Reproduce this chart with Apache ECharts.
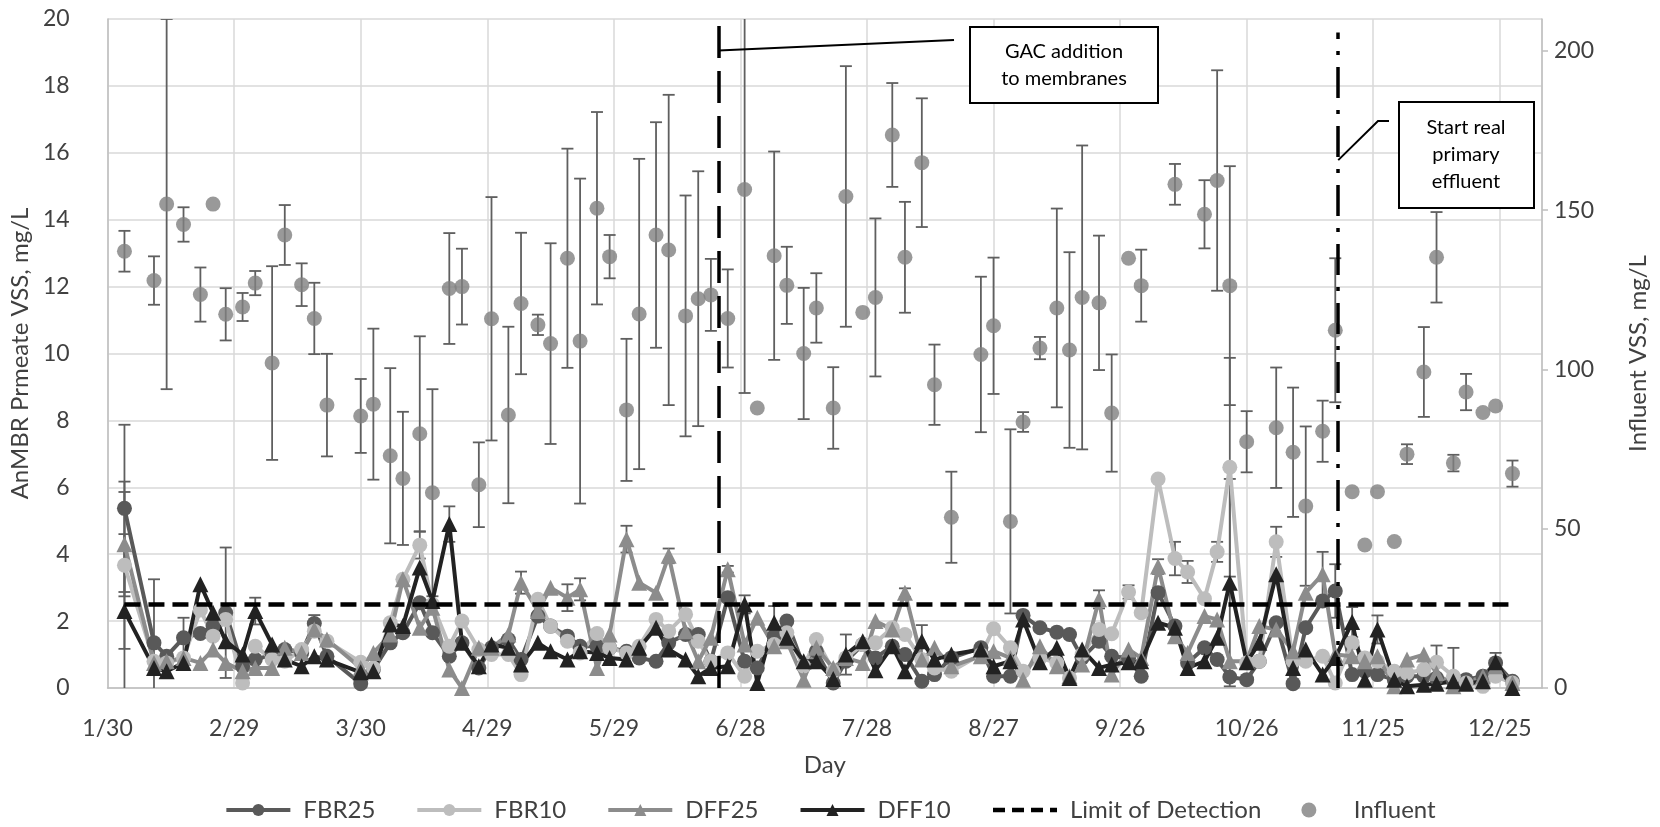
<!DOCTYPE html>
<html>
<head>
<meta charset="utf-8">
<title>AnMBR permeate VSS</title>
<script src="https://cdn.jsdelivr.net/npm/echarts@6/dist/echarts.min.js"></script>
<style>
    html, body { margin: 0; padding: 0; background: #fff; }
    #chart { width: 1660px; height: 827px; }
</style>
</head>
<body>
<div id="chart"></div>
<script>
    // day 0 = 1/30
    var reactorDays = [4, 11, 14, 18, 22, 25, 28, 32, 35, 39, 42, 46, 49, 52,
        60, 63, 67, 70, 74, 77, 81, 84, 88, 91, 95, 98, 102, 105, 109, 112,
        116, 119, 123, 126, 130, 133, 137, 140, 143, 147, 151, 154, 158, 161, 165, 168,
        172, 175, 179, 182, 186, 189, 193, 196, 200, 207, 210, 214, 217, 221, 225,
        228, 231, 235, 238, 242, 245, 249, 253, 256, 260, 263, 266, 270, 273, 277, 281,
        284, 288, 291, 295, 298, 301, 305, 308, 312, 315, 319, 322, 326, 329, 333];

    var fbr25 = [5.37, 1.35, 0.95, 1.5, 1.63, 1.85, 2.25, 0.65, 0.85, 1.0, 1.15, 1.05, 1.93, 0.95,
        0.13, 0.55, 1.35, 1.65, 2.55, 1.65, 0.95, 1.35, 0.6, 1.2, 1.45, 0.85, 2.15, 1.85, 1.55, 1.25,
        1.25, 1.2, 1.1, 0.9, 0.8, 1.35, 1.6, 1.6, 0.8, 2.7, 0.8, 0.6, 1.55, 2.0, 0.65, 1.1,
        0.15, 0.8, 1.3, 0.9, 1.25, 1.0, 0.2, 0.4, 0.9, 1.2, 0.35, 0.35, 2.17, 1.8, 1.67,
        1.6, 0.9, 1.4, 0.95, 0.9, 0.35, 2.85, 1.85, 0.75, 1.2, 0.85, 0.33, 0.25, 0.8, 1.95, 0.13,
        1.8, 2.6, 2.9, 0.4, 0.5, 0.4, 0.25, 0.35, 0.35, 0.3, 0.2, 0.25, 0.35, 0.75, 0.2];

    var fbr10 = [3.67, 0.8, 0.75, 0.9, 2.33, 1.55, 2.05, 0.15, 1.25, 0.85, 0.8, 1.15, 1.7, 1.4,
        0.77, 0.6, 1.95, 3.25, 4.27, 2.5, 1.25, 2.0, 1.15, 1.0, 1.0, 0.4, 2.65, 1.85, 1.4, 1.05,
        1.63, 1.2, 1.05, 1.25, 2.05, 1.7, 2.2, 1.4, 0.8, 1.05, 0.35, 1.1, 1.3, 1.65, 0.65, 1.45,
        0.5, 0.9, 1.3, 1.35, 1.8, 1.6, 0.85, 0.6, 0.5, 1.0, 1.77, 1.2, 0.5, 0.9, 0.75,
        0.3, 1.0, 1.75, 1.62, 2.87, 2.25, 6.25, 3.87, 3.47, 2.67, 4.07, 6.6, 0.75, 0.8, 4.37, 0.8,
        0.8, 0.95, 0.15, 1.35, 0.9, 0.8, 0.5, 0.45, 0.55, 0.77, 0.35, 0.15, 0.05, 0.35, 0.15];

    var dff25 = [4.3, 0.75, 0.8, 0.9, 0.75, 1.15, 0.75, 0.5, 0.6, 0.6, 1.2, 1.05, 1.75, 1.45,
        0.6, 1.05, 1.6, 3.25, 1.8, 2.4, 0.55, 0.0, 1.2, 1.2, 1.6, 3.15, 2.3, 3.0, 2.7, 2.95,
        0.6, 1.6, 4.45, 3.15, 2.85, 3.95, 1.7, 0.8, 1.5, 3.55, 1.3, 2.1, 1.25, 1.4, 0.25, 1.2,
        0.6, 0.9, 0.75, 2.0, 1.75, 2.85, 0.85, 1.2, 0.65, 0.95, 1.1, 0.9, 0.25, 1.25, 0.65,
        0.35, 0.7, 2.65, 0.4, 1.15, 0.9, 3.63, 1.55, 1.05, 2.15, 2.05, 0.8, 0.8, 1.85, 1.75, 1.1,
        2.85, 3.4, 1.0, 0.95, 0.8, 0.95, 0.05, 0.85, 1.0, 0.45, 0.05, 0.15, 0.35, 0.65, 0.15];

    var dff10 = [2.3, 0.6, 0.5, 0.75, 3.1, 2.25, 1.4, 1.0, 2.3, 1.3, 0.85, 0.65, 0.95, 0.85,
        0.47, 0.5, 1.9, 1.85, 3.6, 2.6, 4.9, 1.35, 0.65, 1.3, 1.2, 0.7, 1.35, 1.1, 0.85, 1.1,
        1.05, 0.9, 0.85, 1.2, 1.8, 1.15, 0.85, 0.35, 0.6, 0.65, 2.5, 0.15, 1.95, 1.5, 0.8, 0.8,
        0.27, 1.0, 1.4, 0.53, 1.25, 0.5, 1.4, 0.85, 1.0, 1.15, 0.65, 0.8, 2.05, 0.77, 1.2,
        0.3, 1.15, 0.6, 0.7, 0.77, 0.8, 1.95, 1.8, 0.6, 0.8, 1.5, 3.15, 0.77, 1.35, 3.4, 0.6,
        1.15, 0.4, 0.9, 1.97, 0.25, 1.75, 0.25, 0.05, 0.1, 0.13, 0.2, 0.13, 0.2, 0.77, 0.0];

    // standard deviations that are visible on the reactor points
    var reactorErrSeries = ['FBR25', 'FBR10', 'DFF25', 'DFF10', 'FBR25', 'FBR25', 'FBR25', 'DFF10', 'FBR25',
        'FBR10', 'DFF10', 'DFF25', 'DFF25', 'DFF25', 'DFF25', 'DFF25', 'DFF25', 'DFF10', 'DFF10',
        'DFF25', 'DFF10', 'DFF10', 'DFF25', 'FBR10', 'DFF25', 'FBR10', 'FBR10', 'FBR10', 'FBR10', 'DFF10',
        'FBR10', 'DFF25', 'FBR25', 'DFF10', 'DFF10', 'FBR10', 'FBR25', 'DFF10'];
    var reactorErrDays = [4, 4, 4, 4, 11, 28, 18, 35, 49,
        74, 81, 98, 109, 112, 123, 133, 147, 151, 158,
        189, 193, 175, 235, 242, 249, 253, 256, 263, 266, 266,
        277, 288, 291, 295, 301, 315, 319, 329];
    var reactorErrSd = [2.5, 2.5, 1.56, 2.3, 1.9, 1.95, 0.6, 0.4, 0.25,
        0.4, 0.53, 0.33, 0.4, 0.33, 0.4, 0.22, 0.1, 0.27, 0.5,
        0.13, 0.48, 0.6, 0.27, 0.2, 0.22, 0.5, 0.33, 0.3, 3.27, 3.1,
        0.45, 0.67, 0.8, 0.45, 0.42, 0.5, 1.0, 0.28];

    var influentDays = [4, 11, 14, 18, 22, 25, 28, 32, 35, 39, 42, 46, 49, 52,
        60, 63, 67, 70, 74, 77, 81, 84, 88, 91, 95, 98, 102, 105, 109, 112,
        116, 119, 123, 126, 130, 133, 137, 140, 143, 147, 151, 154, 158, 161, 165, 168,
        172, 175, 179, 182, 186, 189, 193, 196, 200, 207, 210, 214, 217, 221, 225,
        228, 231, 235, 238, 242, 245, 253, 260, 263, 266, 270, 277, 281,
        284, 288, 291, 295, 298, 301, 305, 308, 312, 315, 319, 322, 326, 329, 333];

    var influentMean = [137.1, 127.9, 151.9, 145.5, 123.5, 151.9, 117.3, 119.6, 127.1, 102, 142.2, 126.6, 116, 88.8,
        85.4, 89.1, 72.9, 65.8, 79.8, 61.3, 125.4, 126, 63.8, 115.9, 85.7, 120.7, 114, 108.1, 134.9, 108.9,
        150.6, 135.4, 87.3, 117.4, 142.2, 137.5, 116.8, 122.2, 123.4, 116, 156.5, 87.9, 135.7, 126.4, 105, 119.3,
        87.9, 154.3, 117.9, 122.6, 173.6, 135.2, 164.9, 95.2, 53.6, 104.7, 113.7, 52.3, 83.5, 106.7, 119.3,
        106.1, 122.6, 120.9, 86.3, 134.9, 126.3, 158.1, 148.7, 159.3, 126.3, 77.3, 81.7, 74,
        57.1, 80.6, 112.3, 61.6, 44.9, 61.6, 46, 73.4, 99.2, 135.2, 70.6, 92.9, 86.5, 88.5, 67.3];

    var influentSd = [6.4, 7.6, 58.1, 5.4, 8.5, 0, 8.2, 4.4, 3.8, 30.4, 9.4, 6.7, 11.2, 16.1,
        11.6, 23.7, 27.5, 20.9, 30.6, 32.5, 17.4, 11.9, 13.3, 38.2, 27.7, 22.2, 3.2, 31.5, 34.4, 51,
        30.2, 6.8, 22.3, 48.7, 35.4, 48.7, 37.8, 40, 11.3, 15.4, 63.9, 0, 32.7, 12.1, 20.6, 10.9,
        12.8, 40.9, 0, 24.8, 16.3, 17.4, 20.2, 12.6, 14.3, 24.4, 21.4, 28.9, 3.1, 3.5, 31.2,
        30.7, 47.7, 21.1, 18.4, 0, 11.3, 6.4, 10.7, 34.6, 37.5, 9.6, 18.9, 20.3,
        25, 9.6, 22.6, 0, 0, 0, 0, 3.1, 14.1, 14.2, 2.6, 5.7, 0, 0, 4.1];

    var lodDays = [4, 333];
    var lodValue = 2.5;
    var gacDay = 144.8;
    var primaryDay = 291.7;

    var font = 'Lato, "Open Sans", sans-serif';
    var textColor = '#404040';
    var reactorValues = { FBR25: fbr25, FBR10: fbr10, DFF25: dff25, DFF10: dff10 };

    function pairs(days, vals) {
        return days.map(function (d, i) { return [d, vals[i]]; });
    }

    function dayLabel(d) {
        var t = new Date(Date.UTC(2016, 0, 30) + d * 86400000);
        return (t.getUTCMonth() + 1) + '/' + t.getUTCDate();
    }

    function errorBars(params, api) {
        var x = api.value(0), m = api.value(1), s = api.value(2);
        if (!s) return;
        var top = api.coord([x, m + s]);
        var bot = api.coord([x, Math.max(m - s, 0)]);
        var w = 6;
        var style = { stroke: '#5f5f5f', lineWidth: 1.8 };
        var kids = [
            { type: 'line', shape: { x1: top[0], y1: top[1], x2: bot[0], y2: bot[1] }, style: style },
            { type: 'line', shape: { x1: top[0] - w, y1: top[1], x2: top[0] + w, y2: top[1] }, style: style }
        ];
        if (m - s > 0) {
            kids.push({ type: 'line', shape: { x1: bot[0] - w, y1: bot[1], x2: bot[0] + w, y2: bot[1] }, style: style });
        }
        return { type: 'group', children: kids };
    }

    function reactorSeries(name, vals, symbol, color) {
        return {
            name: name,
            type: 'line',
            data: pairs(reactorDays, vals),
            symbol: symbol,
            symbolSize: symbol === 'circle' ? 15 : 16,
            lineStyle: { color: color, width: 4 },
            itemStyle: { color: color },
            z: 4
        };
    }

    var reactorErrData = reactorErrDays.map(function (d, i) {
        var vals = reactorValues[reactorErrSeries[i]];
        return [d, vals[reactorDays.indexOf(d)], reactorErrSd[i]];
    });

    var chart = echarts.init(document.getElementById('chart'));

    chart.setOption({
        animation: false,
        backgroundColor: '#fff',
        textStyle: { fontFamily: font },
        grid: { left: 104, right: 118, top: 19, bottom: 139 },
        legend: {
            bottom: 0,
            left: 'center',
            itemWidth: 64,
            itemHeight: 15,
            itemGap: 40,
            lineStyle: { width: 4 },
            textStyle: { fontSize: 24, color: textColor, fontFamily: font, padding: [0, 0, 0, 8] },
            data: ['FBR25', 'FBR10', 'DFF25', 'DFF10',
                { name: 'Limit of Detection', itemStyle: { opacity: 0 }, lineStyle: { width: 4.5, type: [12, 7] } },
                'Influent']
        },
        xAxis: {
            type: 'value',
            min: 0,
            max: 340,
            interval: 30,
            name: 'Day',
            nameLocation: 'middle',
            nameGap: 65,
            nameTextStyle: { fontSize: 24, color: textColor },
            axisLine: { lineStyle: { color: '#bfbfbf', width: 1.5 } },
            axisTick: { show: false },
            axisLabel: {
                fontSize: 23, color: textColor, margin: 29,
                showMaxLabel: false,
                formatter: dayLabel
            },
            splitLine: { lineStyle: { color: '#d9d9d9', width: 1.5 } }
        },
        yAxis: [{
            type: 'value',
            min: 0,
            max: 20,
            interval: 2,
            name: 'AnMBR Prmeate VSS, mg/L',
            nameLocation: 'middle',
            nameRotate: 90,
            nameGap: 70,
            nameTextStyle: { fontSize: 24, color: textColor },
            axisLine: { show: true, lineStyle: { color: '#bfbfbf', width: 1.5 } },
            axisTick: { show: false },
            axisLabel: { fontSize: 23, color: textColor, margin: 38 },
            splitLine: { lineStyle: { color: '#d9d9d9', width: 1.5 } }
        }, {
            type: 'value',
            min: 0,
            max: 210,
            interval: 50,
            name: 'Influent VSS, mg/L',
            nameLocation: 'middle',
            nameRotate: 90,
            nameGap: 84,
            nameTextStyle: { fontSize: 24, color: textColor },
            axisLine: { show: true, lineStyle: { color: '#bfbfbf', width: 1.5 } },
            axisTick: { show: true, inside: false, length: 6, lineStyle: { color: '#bfbfbf', width: 1.5 } },
            axisLabel: { fontSize: 23, color: textColor, margin: 12, showMaxLabel: false },
            splitLine: { show: false }
        }],
        series: [
            {
                name: 'Influent error',
                type: 'custom',
                yAxisIndex: 1,
                clip: true,
                z: 2,
                data: influentDays.map(function (d, i) { return [d, influentMean[i], influentSd[i]]; }),
                encode: { x: 0, y: 1 },
                renderItem: errorBars
            },
            {
                name: 'Influent',
                type: 'scatter',
                yAxisIndex: 1,
                symbol: 'circle',
                symbolSize: 15,
                itemStyle: { color: '#7f7f7f' },
                data: pairs(influentDays, influentMean),
                z: 3
            },
            {
                name: 'Reactor error',
                type: 'custom',
                clip: true,
                z: 3,
                data: reactorErrData,
                encode: { x: 0, y: 1 },
                renderItem: errorBars
            },
            reactorSeries('FBR25', fbr25, 'circle', '#595959'),
            reactorSeries('FBR10', fbr10, 'circle', '#bdbdbd'),
            reactorSeries('DFF25', dff25, 'triangle', '#8c8c8c'),
            reactorSeries('DFF10', dff10, 'triangle', '#222222'),
            {
                name: 'Limit of Detection',
                type: 'line',
                data: lodDays.map(function (d) { return [d, lodValue]; }),
                symbol: 'none',
                lineStyle: { color: '#000', width: 4.5, type: [16, 8] },
                itemStyle: { color: '#000' },
                z: 5,
                markLine: {
                    silent: true,
                    symbol: 'none',
                    label: { show: false },
                    data: [
                        [{ coord: [gacDay, 0] }, { coord: [gacDay, 20] }],
                        [{ coord: [primaryDay, 0], lineStyle: { type: [31, 12, 4, 12] } }, { coord: [primaryDay, 19.6] }]
                    ],
                    lineStyle: { color: '#000', width: 3.5, type: [32, 13] }
                }
            }
        ]
    });

    // annotation boxes, leader lines anchored on the event lines
    var gacStart = chart.convertToPixel({ gridIndex: 0 }, [gacDay, 19.06]);
    var priStart = chart.convertToPixel({ gridIndex: 0 }, [primaryDay, 15.78]);
    var boxText = { fontSize: 20, fill: '#000', fontFamily: font, align: 'center', verticalAlign: 'middle', lineHeight: 27 };

    chart.setOption({
        graphic: [
            { type: 'polyline', shape: { points: [gacStart, [954, 40]] }, style: { stroke: '#000', lineWidth: 2, fill: null }, z: 10 },
            { type: 'rect', shape: { x: 970, y: 27, width: 188, height: 76 }, style: { stroke: '#000', lineWidth: 2, fill: '#fff' }, z: 10 },
            { type: 'text', x: 1064, y: 65, style: Object.assign({ text: 'GAC addition\nto membranes' }, boxText), z: 11 },
            { type: 'polyline', shape: { points: [priStart, [1378, 121], [1389, 121]] }, style: { stroke: '#000', lineWidth: 2, fill: null }, z: 10 },
            { type: 'rect', shape: { x: 1399, y: 102, width: 135, height: 106 }, style: { stroke: '#000', lineWidth: 2, fill: '#fff' }, z: 10 },
            { type: 'text', x: 1466, y: 155, style: Object.assign({ text: 'Start real\nprimary\neffluent' }, boxText), z: 11 }
        ]
    });
</script>
</body>
</html>
